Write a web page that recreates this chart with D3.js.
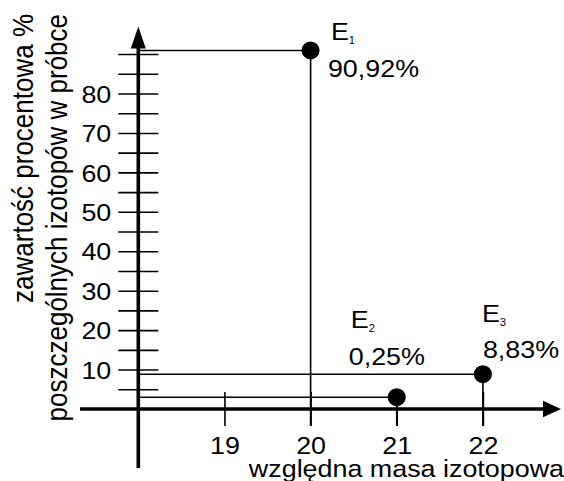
<!DOCTYPE html>
<html>
<head>
<meta charset="utf-8">
<script src="https://cdn.jsdelivr.net/npm/d3@7"></script>
<style>
  body { margin: 0; background: #fff; }
  text { font-family: "Liberation Sans", Arial, sans-serif; fill: #000; }
</style>
</head>
<body>
<svg id="chart"></svg>
<script>
// masy izotopów i ich zawartość
const masses = [20, 21, 22]
const plotted = [90.92, 3, 8.83] // E2 narysowany nieco wyżej niż 0,25
const percentLabels = ['90,92%', '0,25%', '8,83%']
const isotopeIndex = ['1', '2', '3']
const xTicks = [19, 20, 21, 22]
const yTicks = [5, 10, 15, 20, 25, 30, 35, 40, 45, 50, 55, 60, 65, 70, 75, 80, 85, 90]
const yLabelled = [10, 20, 30, 40, 50, 60, 70, 80]

const width = 564
const height = 481
const SX = 1.12 // tekst w oryginale jest nieco rozciągnięty w poziomie
const font = 24

const svg = d3.select('#chart')
  .attr('width', width)
  .attr('height', height)

const x = d3.scaleLinear().domain([18, 22]).range([138.3, 482.9])
const y = d3.scaleLinear().domain([0, 80]).range([409, 93.5])

// oś Y z podziałką
const yAxisG = svg.append('g')
  .attr('transform', `translate(${x(18)},0)`)
  .call(d3.axisLeft(y).tickValues(yTicks).tickSize(20)
    .tickFormat(d => yLabelled.includes(d) ? d : ''))
yAxisG.select('.domain').remove()
yAxisG.selectAll('.tick line')
  .attr('x1', -20).attr('x2', 20)
  .attr('stroke', '#000').attr('stroke-width', 1.6)
yAxisG.selectAll('.tick text')
  .attr('font-size', font)
  .attr('font-family', '"Liberation Sans", Arial, sans-serif')
  .attr('x', -27 / SX)
  .attr('dy', '0.36em')
  .attr('transform', `scale(${SX},1)`)

// oś X z podziałką
const xAxisG = svg.append('g')
  .attr('transform', `translate(0,${y(0)})`)
  .call(d3.axisBottom(x).tickValues(xTicks).tickSize(17).tickFormat(d3.format('d')))
xAxisG.select('.domain').remove()
xAxisG.selectAll('.tick line')
  .attr('y1', -17).attr('y2', 17)
  .attr('stroke', '#000').attr('stroke-width', 1.6)
xAxisG.selectAll('.tick text')
  .attr('font-size', font)
  .attr('font-family', '"Liberation Sans", Arial, sans-serif')
  .attr('y', 45)
  .attr('dy', 0)
  .attr('transform', `scale(${SX},1)`)

// linie osi ze strzałkami
const x0 = x(18)
const y0 = y(0)
svg.append('line')
  .attr('x1', x0).attr('x2', x0)
  .attr('y1', 468).attr('y2', 46)
  .attr('stroke', '#000').attr('stroke-width', 3.6)
svg.append('path')
  .attr('d', `M${x0},26.5 L${x0 - 7.5},48.5 L${x0 + 7.5},48.5 Z`)
  .attr('fill', '#000')
svg.append('line')
  .attr('x1', 80).attr('x2', 546)
  .attr('y1', y0).attr('y2', y0)
  .attr('stroke', '#000').attr('stroke-width', 3.6)
svg.append('path')
  .attr('d', `M561,${y0} L543,${y0 - 8.3} L543,${y0 + 8.3} Z`)
  .attr('fill', '#000')

const points = masses.map((m, i) => ({ m, v: plotted[i], label: percentLabels[i], sub: isotopeIndex[i] }))

// linie pomocnicze
const g = svg.append('g')
g.selectAll('line.h')
  .data(points)
  .enter()
  .append('line')
  .attr('class', 'h')
  .attr('x1', x0)
  .attr('x2', d => x(d.m))
  .attr('y1', d => y(d.v))
  .attr('y2', d => y(d.v))
  .attr('stroke', '#000')
  .attr('stroke-width', 1.5)
g.selectAll('line.v')
  .data(points)
  .enter()
  .append('line')
  .attr('class', 'v')
  .attr('x1', d => x(d.m))
  .attr('x2', d => x(d.m))
  .attr('y1', d => y(d.v))
  .attr('y2', y0 + 17)
  .attr('stroke', '#000')
  .attr('stroke-width', 1.6)
g.selectAll('circle')
  .data(points)
  .enter()
  .append('circle')
  .attr('cx', d => x(d.m))
  .attr('cy', d => y(d.v))
  .attr('r', 9)
  .attr('fill', '#000')

// położenie podpisów względem punktów
const labelPos = [
  { ex: 20.3, ey: -10.4, px: 17.3, py: 26.6 },
  { ex: -46, ey: -69, px: -48, py: -32 },
  { ex: -1, ey: -52.5, px: 0, py: -16 }
]

points.forEach((d, i) => {
  const p = labelPos[i]
  const cx = x(d.m)
  const cy = y(d.v)
  const e = svg.append('text')
    .attr('font-size', font)
    .attr('transform', `translate(${cx + p.ex},${cy + p.ey}) scale(${SX},1)`)
  e.append('tspan').text('E')
  e.append('tspan').attr('font-size', 10).attr('dy', 4).text(d.sub)
  svg.append('text')
    .attr('font-size', font)
    .attr('transform', `translate(${cx + p.px},${cy + p.py}) scale(${SX},1)`)
    .text(d.label)
})

// tytuły osi
svg.append('text')
  .attr('font-size', font)
  .attr('text-anchor', 'end')
  .attr('transform', `translate(564,476.5) scale(${SX},1)`)
  .text('względna masa izotopowa')

const yTitle = ['zawartość procentowa %', 'poszczególnych izotopów w próbce']
svg.selectAll('text.ytitle')
  .data(yTitle)
  .enter()
  .append('text')
  .attr('class', 'ytitle')
  .attr('font-size', 26)
  .attr('text-anchor', 'end')
  .attr('transform', (d, i) => `translate(${33 + i * 34},14) scale(${SX},1) rotate(-90)`)
  .text(d => d)
</script>
</body>
</html>
